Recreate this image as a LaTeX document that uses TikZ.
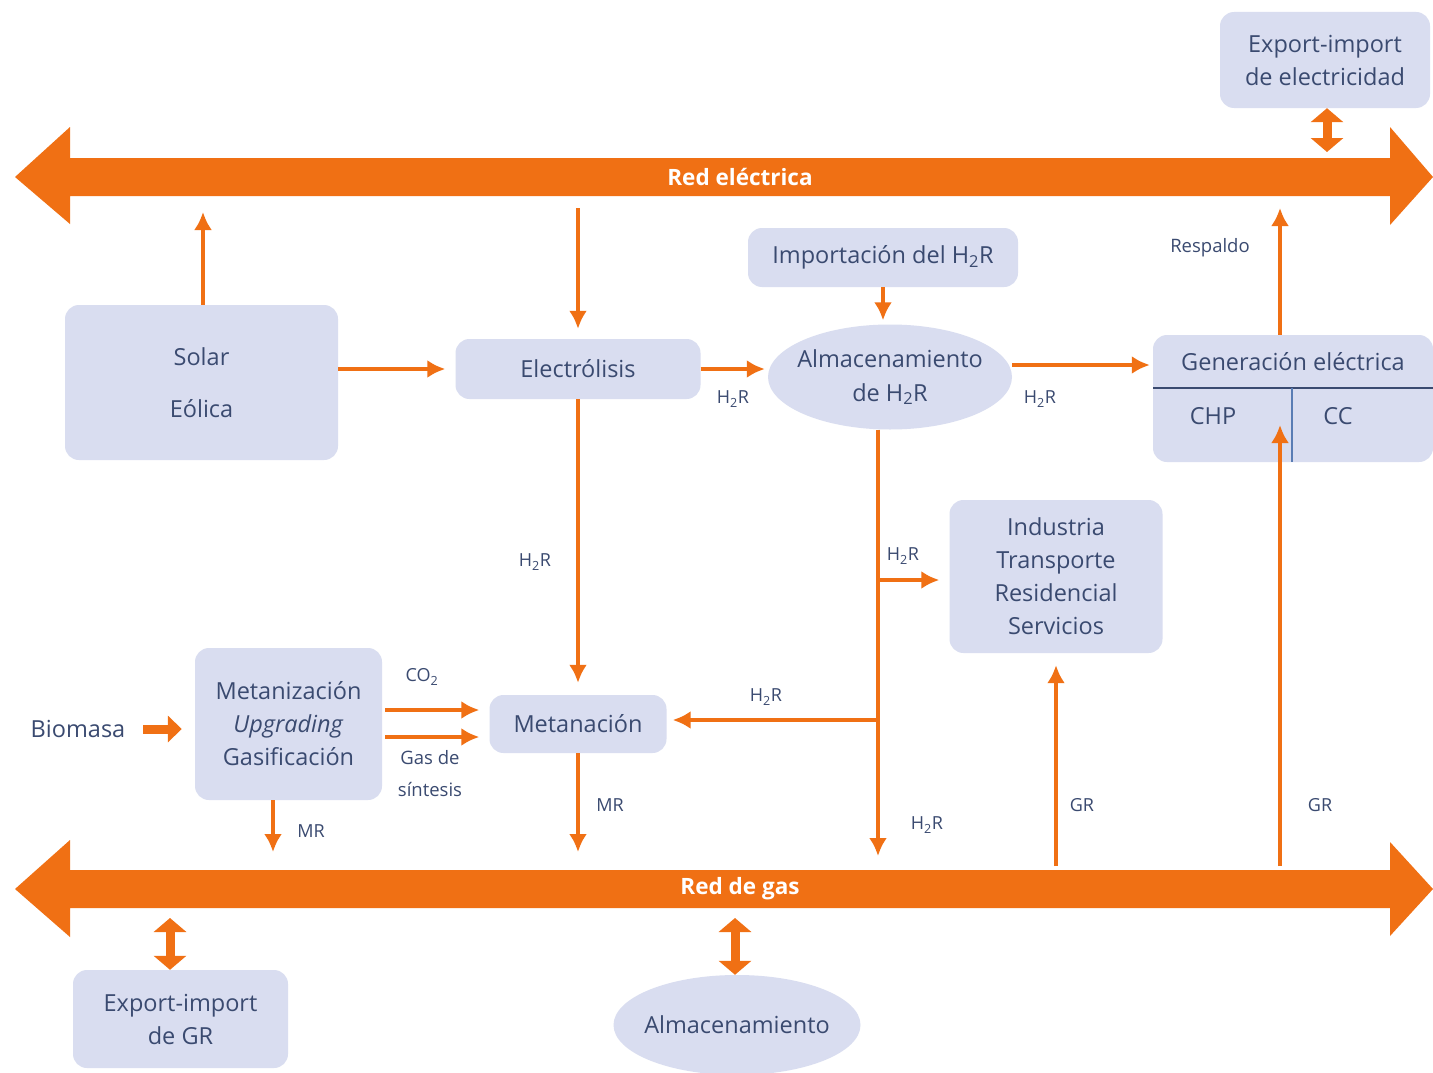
\documentclass[tikz,border=0pt]{standalone}
\usepackage{fontspec}
\setmainfont{Open Sans}
\usetikzlibrary{arrows.meta,shapes.geometric,calc}
\definecolor{org}{RGB}{240,112,20}
\definecolor{boxc}{RGB}{217,221,240}
\definecolor{txt}{RGB}{58,74,112}
\definecolor{vline}{RGB}{90,125,180}
\newcommand{\HHR}{H\textsubscript{2}R}
\begin{document}
\begin{tikzpicture}[x=1pt,y=-1pt,
  box/.style={fill=boxc,rounded corners=14pt,draw=none,text=txt,align=center,
    font=\fontsize{23.5}{33}\selectfont,inner sep=0pt},
  ell/.style={ellipse,fill=boxc,draw=none,text=txt,align=center,
    font=\fontsize{23.5}{34}\selectfont,inner ysep=0pt,inner xsep=-10pt},
  flow/.style={draw=org,line width=4pt,-{Latex[length=18pt,width=18pt]}},
  lbl/.style={text=txt,font=\fontsize{18}{21}\selectfont,inner sep=0pt},
  slbl/.style={text=txt,font=\fontsize{18.5}{32}\selectfont,inner sep=0pt,align=center},
  dbl/.style={draw=org,line width=9pt,{Triangle[length=14pt,width=32pt]}-{Triangle[length=14pt,width=32pt]}},
  barlbl/.style={text=white,font=\fontsize{22.5}{24}\selectfont\bfseries,inner sep=0pt}]
\useasboundingbox (0,0) rectangle (1433,1073);
\fill[white] (0,0) rectangle (1433,1073);

% bars
\fill[org] (15,177) -- (70,127) -- (70,158) -- (1390,158) -- (1390,127) -- (1433,177)
  -- (1390,225) -- (1390,196) -- (70,196) -- (70,224) -- cycle;
\node[barlbl] (redel) at (740,177) {Red eléctrica};
\fill[org] (15,889) -- (70,840) -- (70,870) -- (1390,870) -- (1390,842) -- (1433,889)
  -- (1390,936) -- (1390,908) -- (70,908) -- (70,937) -- cycle;
\node[barlbl] (redgas) at (740,889) {Red de gas};

% coordinates on bars
\coordinate (e1) at (203,212);
\coordinate (e2) at (578,208);
\coordinate (e3) at (1327,152);
\coordinate (e4) at (1280,208);
\coordinate (g1) at (273,852);
\coordinate (g2) at (578,852);
\coordinate (g3) at (878,856);
\coordinate (g4) at (1056,866);
\coordinate (g5) at (1280,866);
\coordinate (g6) at (170,918);
\coordinate (g7) at (735,918);
\coordinate (j1) at (878,580);
\coordinate (j2) at (878,720);
\coordinate (chpin) at (1280,425);

% nodes
\node[box,minimum width=210pt,minimum height=96pt] (exe) at (1325,60) {Export-import\\de electricidad};
\node[box,minimum width=273pt,minimum height=155pt] (sol) at (201.5,382.5) {Solar\\[19pt]Eólica};
\node[box,minimum width=245pt,minimum height=60pt] (elz) at (578,369) {Electrólisis};
\node[box,minimum width=270pt,minimum height=59pt] (imp) at (883,257.5) {Importación del \HHR};
\node[ell,minimum width=244pt,minimum height=105pt] (alm) at (890,377) {Almacenamiento\\de \HHR};
\node[box,minimum width=280pt,minimum height=127pt] (gen) at (1293,398.5) {};
\node[text=txt,font=\fontsize{23.5}{33}\selectfont,inner sep=0pt] (gent) at (1293,362) {Generación eléctrica};
\node[text=txt,font=\fontsize{23.5}{33}\selectfont,inner sep=0pt] (chp) at (1213,416) {CHP};
\node[text=txt,font=\fontsize{23.5}{33}\selectfont,inner sep=0pt] (cc) at (1338,416) {CC};
\draw[txt,line width=2pt] (1153,388) -- (1433,388);
\draw[vline,line width=1.5pt] (1292,388) -- (1292,462);
\node[box,minimum width=213pt,minimum height=153pt] (ind) at (1056,576.5) {Industria\\Transporte\\Residencial\\Servicios};
\node[box,minimum width=187pt,minimum height=152pt] (mz) at (288.5,724) {Metanización\\\textit{Upgrading}\\Gasificación};
\node[box,minimum width=177pt,minimum height=58pt] (met) at (578,724) {Metanación};
\node[text=txt,font=\fontsize{23.5}{33}\selectfont,inner sep=0pt] (bio) at (78,729) {Biomasa};
\node[box,minimum width=215pt,minimum height=98pt] (exg) at (180.5,1019) {Export-import\\de GR};
\node[ell,minimum width=247pt,minimum height=100pt] (almg) at (737,1025) {Almacenamiento};

% connectors
\draw[flow,shorten >=0pt] (sol.north -| e1) -- (e1);
\draw[flow,shorten >=10pt] (sol.east |- elz.west) -- (elz.west);
\draw[flow,shorten >=10pt] (e2) -- (elz.north);
\draw[flow,shorten >=3pt] (elz.east) -- (alm.west |- elz.east);
\draw[flow,shorten >=4pt] (imp.south) -- (imp.south |- alm.north);
\draw[flow,shorten >=3pt] ($(alm.east)+(0,-12)$) -- ($(gen.west)+(0,-33.5)$);
\draw[flow] (gen.north -| e4) -- (e4);
\draw[flow] (g5) -- (chpin);
\draw[flow,shorten >=12pt] (g4) -- (ind.south);
\draw[flow] (alm.south -| g3) -- (g3);
\draw[flow,shorten >=10pt] (j1) -- (ind.west |- j1);
\draw[flow,shorten >=6pt] (j2) -- (met.east |- j2);
\draw[flow,shorten >=12pt] (elz.south) -- (met.north);
\draw[flow] (met.south) -- (g2);
\draw[flow,shorten <=3pt,shorten >=10pt] (mz.east |- 0,710) -- (met.west |- 0,710);
\draw[flow,shorten <=3pt,shorten >=10pt] (mz.east |- 0,737) -- (met.west |- 0,737);
\draw[flow] (mz.south -| g1) -- (g1);
\draw[draw=org,line width=9pt,-{Triangle[length=14pt,width=26pt]},shorten <=18pt,shorten >=13pt] (bio.east) -- (mz.west |- bio.east);
\draw[dbl] (exe.south -| e3) -- (e3);
\draw[dbl] (g6) -- (exg.north -| g6);
\draw[dbl] (g7) -- (almg.north -| g7);

% labels
\node[lbl] (l1) at (733,399) {\HHR};
\node[lbl] (l2) at (1040,399) {\HHR};
\node[lbl] (l3) at (535,562) {\HHR};
\node[lbl] (l4) at (903,556) {\HHR};
\node[lbl] (l5) at (766,697) {\HHR};
\node[lbl] (l6) at (927,825) {\HHR};
\node[lbl] (l7) at (422,677) {CO\textsubscript{2}};
\node[slbl] (l8) at (430,774) {Gas de\\síntesis};
\node[lbl] (l9) at (610,805) {MR};
\node[lbl] (l10) at (311,831) {MR};
\node[lbl] (l11) at (1082,805) {GR};
\node[lbl] (l12) at (1320,805) {GR};
\node[slbl] (l13) at (1210,248) {Respaldo};
\end{tikzpicture}
\end{document}
